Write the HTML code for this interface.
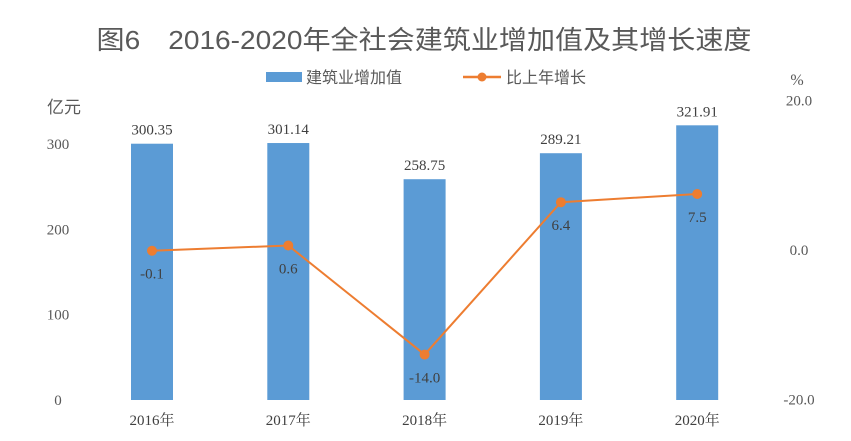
<!DOCTYPE html>
<html><head><meta charset="utf-8"><style>
html,body{margin:0;padding:0;background:#fff;}
svg{display:block;}
</style></head><body>
<svg id="chart" width="851" height="441" xmlns="http://www.w3.org/2000/svg">
<text x="424" y="49" text-anchor="middle" font-family="'Liberation Sans','Noto Sans CJK SC',sans-serif" font-size="26" fill="#595959" textLength="655" lengthAdjust="spacingAndGlyphs">图6　2016-2020年全社会建筑业增加值及其增长速度</text>
<g>
<g>
<rect x="266" y="72" width="36" height="10" fill="#5b9bd5"/>
<text x="306" y="83" font-family="'Liberation Sans','Noto Sans CJK SC',sans-serif" font-size="16" fill="#595959">建筑业增加值</text>
</g>
<g>
<line x1="463" y1="77" x2="501" y2="77" stroke="#ed7d31" stroke-width="2.5"/>
<circle cx="482" cy="77" r="4.5" fill="#ed7d31"/>
<text x="506" y="83" font-family="'Liberation Sans','Noto Sans CJK SC',sans-serif" font-size="16" fill="#595959">比上年增长</text>
</g>
</g>
<text x="47" y="113" font-family="'Liberation Sans','Noto Sans CJK SC',sans-serif" font-size="17" fill="#595959">亿元</text>
<text x="797" y="85" text-anchor="middle" font-family="'Liberation Serif',serif" font-size="16" fill="#595959">%</text>
<g id="plot"></g>
</svg>
<script>
const categories = ["2016年","2017年","2018年","2019年","2020年"];
const barValues = [300.35,301.14,258.75,289.21,321.91];
const growthValues = [-0.1,0.6,-14.0,6.4,7.5];
const leftTicks = [0,100,200,300];
const rightTicks = [-20.0,0.0,20.0];

const NS="http://www.w3.org/2000/svg";
const plot=document.getElementById('plot');
function yL(v){return 400 - v*0.8533;}
function yR(v){return 250 - v*7.47;}
function xC(i){return 152 + i*136.3;}
function mk(tag,attrs,parent){const e=document.createElementNS(NS,tag);for(const k in attrs)e.setAttribute(k,attrs[k]);(parent||plot).appendChild(e);return e;}
const serif="'Liberation Serif',serif";

leftTicks.forEach(t=>{
  const e=mk('text',{x:58,y:yL(t)+5,'text-anchor':'middle','font-family':serif,'font-size':15,fill:'#595959'});
  e.textContent=t;
  
  
});
rightTicks.forEach(t=>{
  const e=mk('text',{x:799,y:yR(t)+5,'text-anchor':'middle','font-family':serif,'font-size':15,fill:'#595959'});
  e.textContent=t.toFixed(1);
  
  
});
categories.forEach((c,i)=>{
  const e=mk('text',{x:xC(i),y:425,'text-anchor':'middle','font-family':"'Liberation Serif','Noto Serif CJK SC',serif",'font-size':15,fill:'#404040'});
  e.textContent=c;
  
  
});
barValues.forEach((v,i)=>{
  const r=mk('rect',{x:xC(i)-21,y:yL(v),width:42,height:400-yL(v),fill:'#5b9bd5'});
  
  
  const t=mk('text',{x:xC(i),y:yL(v)-9,'text-anchor':'middle','font-family':serif,'font-size':15,fill:'#404040'});
  t.textContent=v.toFixed(2);
  
  
});
const pts=growthValues.map((v,i)=>xC(i)+','+yR(v)).join(' ');
const pl=mk('polyline',{points:pts,fill:'none',stroke:'#ed7d31','stroke-width':2});


growthValues.forEach((v,i)=>{
  const c=mk('circle',{cx:xC(i),cy:yR(v),r:5,fill:'#ed7d31'});
  
  
  const t=mk('text',{x:xC(i),y:yR(v)+28,'text-anchor':'middle','font-family':serif,'font-size':15,fill:'#404040'});
  t.textContent=v.toFixed(1);
  
  
});
</script>
</body></html>
